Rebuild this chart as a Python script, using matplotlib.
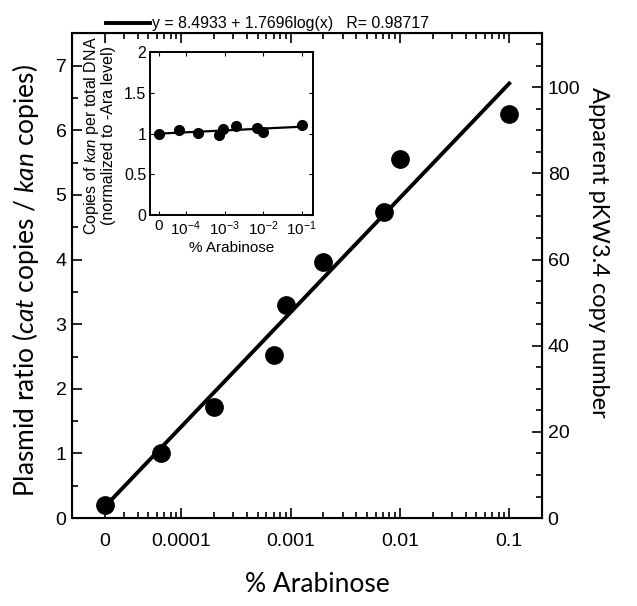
import matplotlib
matplotlib.use('Agg')
import matplotlib.pyplot as plt
from matplotlib.ticker import MultipleLocator, FixedLocator, NullFormatter
import numpy as np

plt.rcParams['font.family'] = ['Liberation Sans', 'DejaVu Sans']
plt.rcParams['mathtext.fontset'] = 'custom'
plt.rcParams['mathtext.rm'] = 'Lato'
plt.rcParams['mathtext.it'] = 'Lato:italic'
plt.rcParams['mathtext.sf'] = 'Liberation Sans'

# main data ("0" arabinose drawn at 2e-5 on the log axis)
ara = [2e-5, 6.5e-5, 2.0e-4, 7.1e-4, 9.1e-4, 2.0e-3, 7.1e-3, 1.0e-2, 0.1]
ratio = [0.2, 1.0, 1.72, 2.52, 3.29, 3.96, 4.73, 5.55, 6.25]
fit_a = 8.4933
fit_b = 1.7696
fit_x = [2e-5, 0.1]

xtick_pos = [2e-5, 1e-4, 1e-3, 1e-2, 1e-1]
xtick_lab = ['0', '0.0001', '0.001', '0.01', '0.1']

# inset data
ins_x = [2e-5, 6.5e-5, 2.0e-4, 7.1e-4, 9.1e-4, 2.0e-3, 7.1e-3, 1.0e-2, 0.1]
ins_y = [1.0, 1.05, 1.01, 0.98, 1.06, 1.09, 1.07, 1.02, 1.11]
ins_fit_x = [2e-5, 0.1]
ins_fit_y = [1.0, 1.085]
ins_tick_lab = ['0', '$\\mathsf{10^{-4}}$', '$\\mathsf{10^{-3}}$', '$\\mathsf{10^{-2}}$', '$\\mathsf{10^{-1}}$']

fig = plt.figure(figsize=(6.37, 6.06), dpi=100)
ax = fig.add_axes([0.113, 0.145, 0.738, 0.8])

fy = [fit_a + fit_b * np.log10(v) for v in fit_x]
fit_line, = ax.plot(fit_x, fy, color='black', lw=2.8)
ax.plot(ara, ratio, 'o', color='black', ms=12.5)

ax.set_xscale('log')
ax.set_xlim(1e-5, 0.2)
ax.set_ylim(0, 7.5)
ax.xaxis.set_major_locator(FixedLocator(xtick_pos))
ax.set_xticklabels(xtick_lab)
ax.xaxis.set_minor_formatter(NullFormatter())
ax.yaxis.set_major_locator(MultipleLocator(1))
ax.yaxis.set_minor_locator(MultipleLocator(0.5))
ax.tick_params(which='both', direction='in', top=True, labelsize=14, width=1.2)
ax.tick_params(axis='x', pad=11)
ax.tick_params(axis='y', pad=4)
ax.tick_params(which='major', length=7)
ax.tick_params(which='minor', length=4)
for s in ax.spines.values():
    s.set_linewidth(1.5)

ax.set_xlabel('% Arabinose', fontsize=19, family='Lato')
ax.xaxis.set_label_coords(0.521, -0.111)
ax.set_ylabel('Plasmid ratio ($cat$ copies / $kan$ copies)', fontsize=19, family='Lato')
ax.yaxis.set_label_coords(-0.066, 0.49)

ax2 = ax.twinx()
ax2.set_ylim(0, 112.5)
ax2.yaxis.set_major_locator(MultipleLocator(20))
ax2.yaxis.set_minor_locator(MultipleLocator(5))
ax2.tick_params(which='both', direction='in', labelsize=14, width=1.2, pad=4)
ax2.tick_params(which='major', length=7)
ax2.tick_params(which='minor', length=4)
ax2.set_ylabel('Apparent pKW3.4 copy number', fontsize=17, family='Lato', rotation=270, va='bottom')
ax2.yaxis.set_label_coords(1.098, 0.548)

ax.legend([fit_line], ['y = 8.4933 + 1.7696log(x)   R= 0.98717'], loc='lower center',
          bbox_to_anchor=(0.415, 0.985), frameon=False, handlelength=2.8,
          handletextpad=0.1, borderpad=0.1, fontsize=11.4)

# inset
axi = fig.add_axes([0.236, 0.645, 0.256, 0.269])
axi.plot(ins_fit_x, ins_fit_y, color='black', lw=1.6)
axi.plot(ins_x, ins_y, 'o', color='black', ms=7)
axi.set_xscale('log')
axi.set_xlim(1.2e-5, 0.2)
axi.set_ylim(0, 2)
axi.xaxis.set_major_locator(FixedLocator(xtick_pos))
axi.set_xticklabels(ins_tick_lab)
axi.xaxis.set_minor_formatter(NullFormatter())
axi.set_yticks([0, 0.5, 1, 1.5, 2])
axi.set_yticklabels(['0', '0.5', '1', '1.5', '2'])
axi.tick_params(which='both', direction='in', top=True, right=True, labelsize=11.5, pad=3)
axi.tick_params(axis='x', labelsize=11)
axi.tick_params(which='major', length=3)
axi.tick_params(which='minor', length=1.5)
for s in axi.spines.values():
    s.set_linewidth(1.4)
axi.set_xlabel('% Arabinose', fontsize=11, labelpad=2)
axi.set_ylabel('Copies of $kan$ per total DNA\n(normalized to -Ara level)', fontsize=11.5,
               linespacing=1.0)
axi.yaxis.set_label_coords(-0.21, 0.49)

fig.savefig('out.png', dpi=100)
